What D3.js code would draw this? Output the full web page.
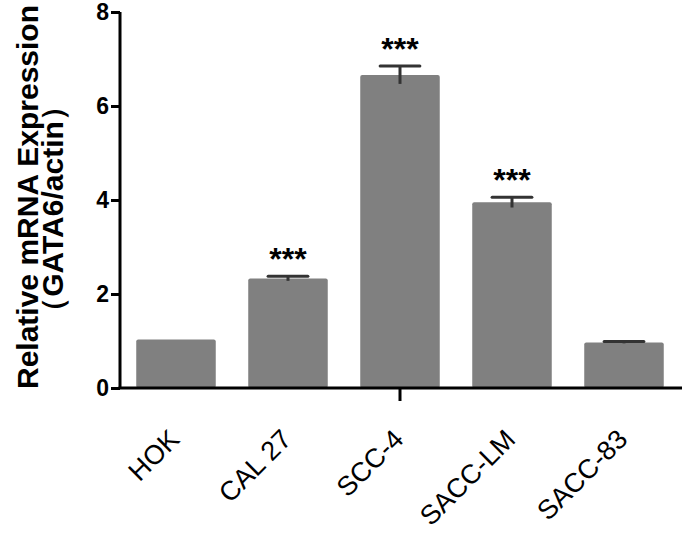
<!DOCTYPE html>
<html>
<head>
<meta charset="utf-8">
<script src="https://cdn.jsdelivr.net/npm/d3@7"></script>
<style>
  body { margin: 0; background: #fff; }
  svg { display: block; }
</style>
</head>
<body>
<svg id="chart" width="685" height="534"></svg>
<script>
// ---- data ----
const categories = ["HOK", "CAL 27", "SCC-4", "SACC-LM", "SACC-83"];
const means = [1.03, 2.33, 6.66, 3.95, 0.97];
const errors = [0, 0.05, 0.19, 0.11, 0.02];
const significance = ["", "***", "***", "***", ""];
const yTicks = [0, 2, 4, 6, 8];
const yTitle1 = "Relative mRNA Expression";
const yTitle2 = "（GATA6/actin）";

(function () {
const svg = d3.select("#chart");
const pLeft = 120, pRight = 682, pTop = 12, pBottom = 388;

const x = d3.scaleBand().domain(categories).range([pLeft, 680]).paddingInner(0.29).paddingOuter(0.145);
const y = d3.scaleLinear().domain([0, 8]).range([pBottom, pTop]);

const data = categories.map((c, i) => ({ c, m: means[i], e: errors[i], s: significance[i] }));

// bars
svg.append("g").selectAll("rect").data(data).join("rect")
  .attr("x", d => x(d.c))
  .attr("y", d => y(d.m))
  .attr("width", x.bandwidth())
  .attr("height", d => y(0) - y(d.m))
  .attr("rx", 2)
  .attr("fill", "#808080");

// error bars
const eb = svg.append("g").attr("stroke", "#333").attr("stroke-width", 3);
data.filter(d => d.e > 0).forEach(d => {
  const cx = x(d.c) + x.bandwidth() / 2;
  const capW = x.bandwidth() / 2;
  eb.append("line").attr("x1", cx).attr("x2", cx).attr("y1", y(d.m - d.e)).attr("y2", y(d.m + d.e));
  eb.append("line").attr("x1", cx - capW / 2).attr("x2", cx + capW / 2)
    .attr("y1", y(d.m + d.e)).attr("y2", y(d.m + d.e)).attr("stroke-linecap", "round");
});

// significance
svg.append("g").selectAll("text").data(data.filter(d => d.s)).join("text")
  .attr("x", d => x(d.c) + x.bandwidth() / 2)
  .attr("y", d => y(d.m + d.e) - 6)
  .attr("text-anchor", "middle")
  .attr("font-family", "'Liberation Sans', Arial, sans-serif")
  .attr("font-weight", "bold")
  .attr("font-size", 32)
  .attr("fill", "#000")
  .text(d => d.s);

// y axis
const yAxis = d3.axisLeft(y).tickValues(yTicks).tickSize(9).tickPadding(2).tickFormat(d3.format("d"));
const gy = svg.append("g").attr("transform", `translate(${pLeft},0)`).call(yAxis);
gy.select(".domain").attr("stroke", "#000").attr("stroke-width", 3).attr("d", `M0,${pTop}V${pBottom}`);
gy.selectAll(".tick line").attr("stroke", "#000").attr("stroke-width", 3);
gy.selectAll(".tick text")
  .attr("font-family", "'Liberation Sans', Arial, sans-serif")
  .attr("font-weight", "bold").attr("font-size", 23).attr("fill", "#000");

// x axis line
svg.append("line").attr("x1", pLeft - 1.5).attr("x2", pRight).attr("y1", pBottom).attr("y2", pBottom)
  .attr("stroke", "#000").attr("stroke-width", 3);
// single tick under middle category
const midCat = categories[Math.floor(categories.length / 2)];
svg.append("line")
  .attr("x1", x(midCat) + x.bandwidth() / 2).attr("x2", x(midCat) + x.bandwidth() / 2)
  .attr("y1", pBottom).attr("y2", pBottom + 13)
  .attr("stroke", "#000").attr("stroke-width", 3);

// x labels
svg.append("g").selectAll("text").data(categories).join("text")
  .attr("transform", c => `translate(${x(c) + x.bandwidth() / 2 + 5},${pBottom + 53}) rotate(-45)`)
  .attr("text-anchor", "end")
  .attr("font-family", "'Liberation Sans', Arial, sans-serif")
  .attr("font-size", 27)
  .attr("fill", "#000")
  .text(c => c);

// y title
svg.append("text")
  .attr("transform", `translate(38,197) rotate(-90)`)
  .attr("text-anchor", "middle")
  .attr("font-family", "'Liberation Sans', Arial, sans-serif")
  .attr("font-weight", "bold").attr("font-size", 30).attr("fill", "#000")
  .text(yTitle1);
svg.append("text")
  .attr("transform", `translate(63,209) rotate(-90)`)
  .attr("text-anchor", "middle")
  .attr("font-family", "'Liberation Sans', Arial, sans-serif")
  .attr("font-weight", "bold").attr("font-size", 30).attr("fill", "#000")
  .text(yTitle2);
})();
</script>
</body>
</html>
